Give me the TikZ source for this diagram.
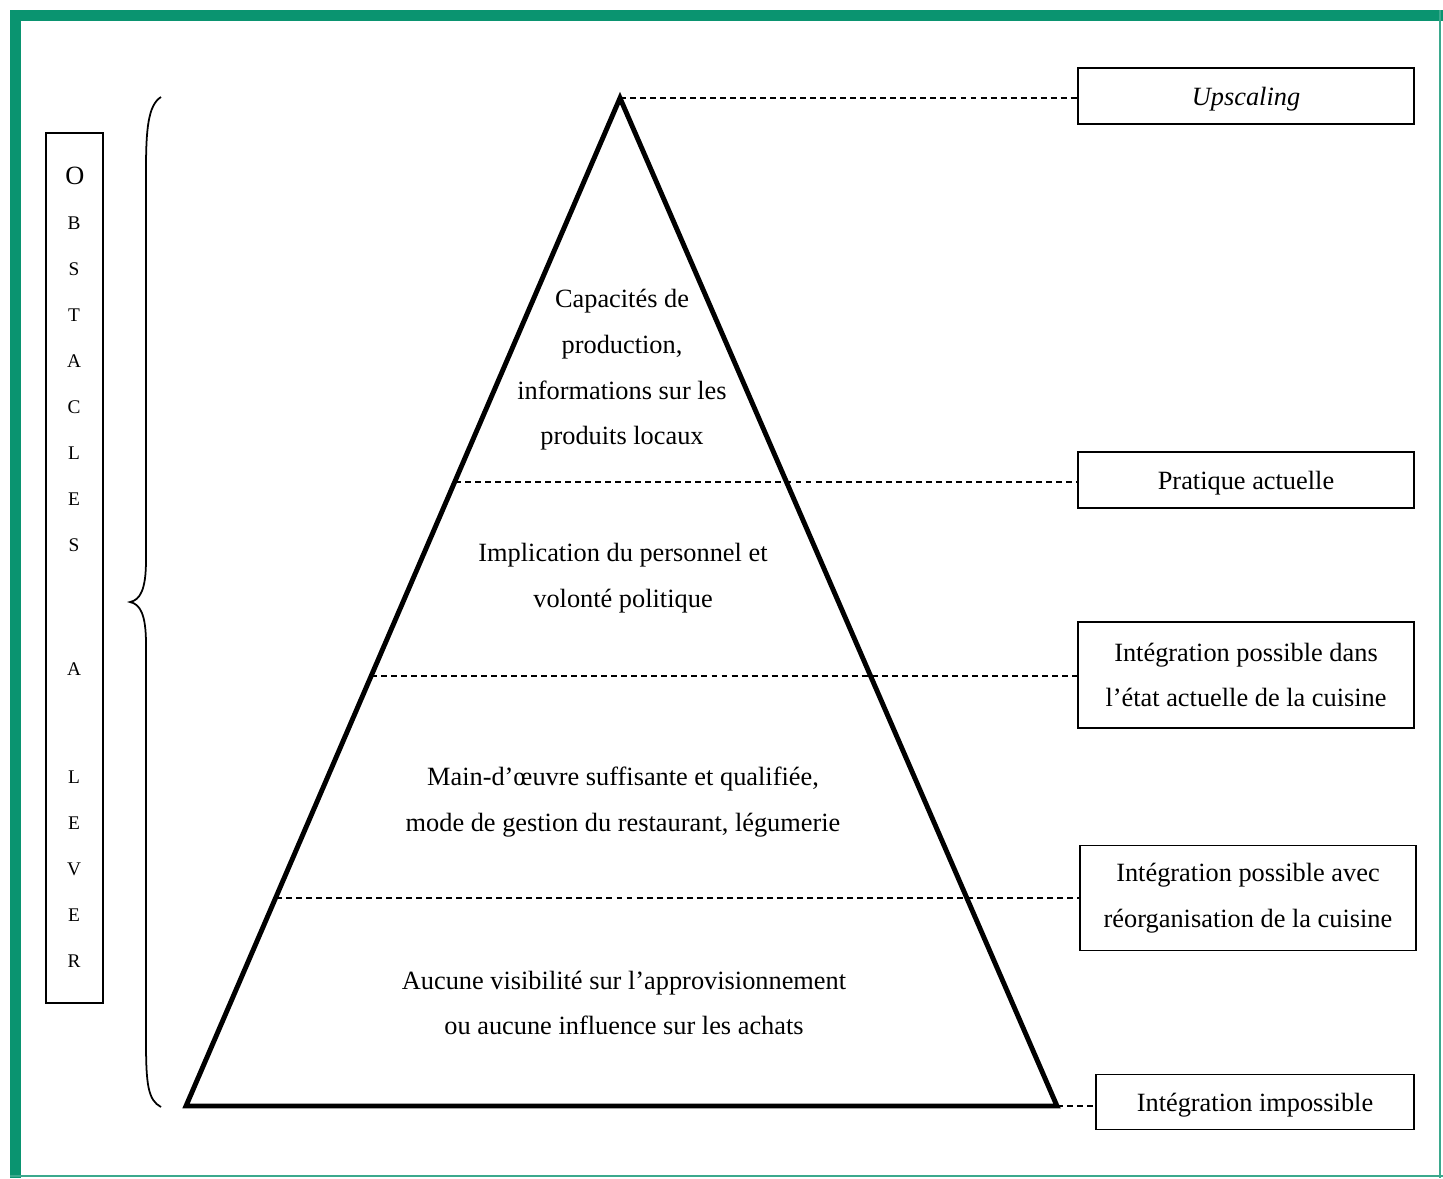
\documentclass[tikz,border=0pt]{standalone}
\usepackage{fontspec}
\setmainfont{Liberation Serif}
\usepackage{xcolor}
\definecolor{framegreen}{RGB}{10,148,112}
\newcommand{\fs}{\fontsize{15}{26}\selectfont}

\begin{document}
\begin{tikzpicture}[x=0.02cm, y=-0.02cm,
    levelbox/.style={rectangle, draw=black, line width=1.1pt, minimum width=6.72cm, minimum height=1.12cm, align=center, inner sep=0pt, font=\fs},
    leveltext/.style={align=center, font=\fs},
    guide/.style={dash pattern=on 3.4pt off 2.3pt, line width=0.8pt},
    ]
    \useasboundingbox (0,0) rectangle (1443,1178);

    %Frame
    \fill[framegreen] (10,10) rectangle (21,1178);
    \fill[framegreen] (10,10) rectangle (1443,21);
    \fill[framegreen!80] (1439,10) rectangle (1441,1178);
    \fill[framegreen!80] (10,1175) rectangle (1443,1177);

    %Pyramid
    \coordinate (apex) at (620,98);
    \coordinate (bl)   at (186,1106);
    \coordinate (br)   at (1057,1106);
    \coordinate (cut1) at (455,482);
    \coordinate (cut2) at (371,676);
    \coordinate (cut3) at (276,898);
    \draw[line width=2.8pt] (apex) -- (bl) -- (br) -- cycle;

    %Nodes
    \node[leveltext] (capacites) at (622,370) {Capacités de\\production,\\informations sur les\\produits locaux};
    \node[leveltext] (implication) at (623,578) {Implication du personnel et\\volonté politique};
    \node[leveltext] (mainoeuvre) at (623,802) {Main-d’œuvre suffisante et qualifiée,\\mode de gestion du restaurant, légumerie};
    \node[leveltext] (aucune) at (624,1003) {Aucune visibilité sur l’approvisionnement\\ou aucune influence sur les achats};

    \node[levelbox] (upscaling)  at (1246,96)  {\itshape Upscaling\strut};
    \node[levelbox] (pratique)   at (1246,480) {Pratique actuelle\strut};
    \node[levelbox, minimum height=2.12cm] (dans) at (1246,675) {Intégration possible dans\\l’état actuelle de la cuisine};
    \node[levelbox, minimum height=2.1cm]  (avec) at (1248,898) {Intégration possible avec\\réorganisation de la cuisine};
    \node[levelbox, minimum width=6.36cm, minimum height=1.1cm] (impossible) at (1255,1102) {Intégration impossible\strut};

    %Obstacles
    \node[draw, line width=1.1pt, minimum width=1.14cm, minimum height=17.4cm, inner sep=0pt] (obstacles) at (74.5,568) {};
    \node[font=\fontsize{15}{15}\selectfont] (lettreO) at (75,176) {O};
    \foreach \lettre/\ypos [count=\i] in {B/223,S/269,T/315,A/361,C/407,L/453,E/499,S/545,A/669,L/777,E/823,V/869,E/915,R/961}
        \node[font=\fontsize{11}{11}\selectfont] (lettre\i) at (74,\ypos) {\lettre};

    %Brace
    \draw[line width=1pt] (161,97) .. controls (148,105) and (146,130) .. (146,170)
        -- (146,560) .. controls (146,590) and (140,600) .. (130,602)
        .. controls (140,604) and (146,614) .. (146,644)
        -- (146,1040) .. controls (146,1085) and (148,1100) .. (161,1107);

    %Lines
    \draw[guide] (apex) -- (apex -| upscaling.west);
    \draw[guide] (cut1) -- (cut1 -| pratique.west);
    \draw[guide] (cut2) -- (cut2 -| dans.west);
    \draw[guide] (cut3) -- (cut3 -| avec.west);
    \draw[guide] (br) -- (br -| impossible.west);
\end{tikzpicture}
\end{document}
